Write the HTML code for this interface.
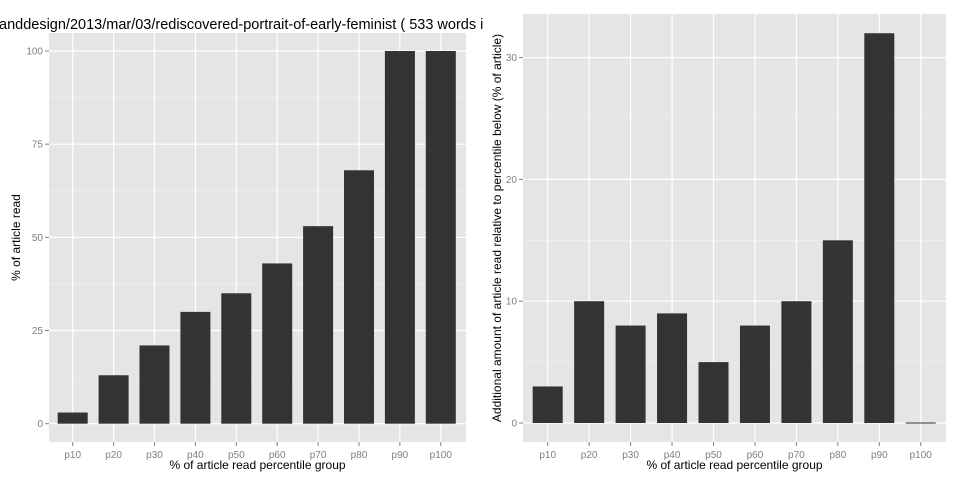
<!DOCTYPE html>
<html><head><meta charset="utf-8"><style>
body{margin:0;background:#fff;}
svg{display:block;font-family:"Liberation Sans",sans-serif;}
</style></head><body>
<svg id="chart" width="960" height="480"></svg>
<script>
const categories=["p10","p20","p30","p40","p50","p60","p70","p80","p90","p100"];
const leftValues=[3,13,21,30,35,43,53,68,100,100];
const rightValues=[3,10,8,9,5,8,10,15,32,0];
const leftTicks=[0,25,50,75,100];
const rightTicks=[0,10,20,30];
const NS="http://www.w3.org/2000/svg";
const svg=document.getElementById('chart');
function mk(tag,attrs,parent,text){const e=document.createElementNS(NS,tag);for(const k in attrs)e.setAttribute(k,attrs[k]);if(text!==undefined)e.textContent=text;(parent||svg).appendChild(e);return e;}
function panel(cfg,values,ticks){
  const g=mk('g',{});
  
  
  const y=v=>cfg.y0-(v)*cfg.ppu;
  const x=i=>cfg.x0+i*cfg.step;
  const bg=mk('rect',{x:cfg.left,y:cfg.top,width:cfg.right-cfg.left,height:cfg.bottom-cfg.top,fill:'#e5e5e5'},g);
  
  
  for(let i=0;i<ticks.length-1;i++){const m=(ticks[i]+ticks[i+1])/2;mk('line',{x1:cfg.left,x2:cfg.right,y1:y(m),y2:y(m),stroke:'#f2f2f2','stroke-width':0.6},g);}
  const lastMinor=ticks[ticks.length-1]+(ticks[1]-ticks[0])/2;
  if(y(lastMinor)>cfg.top)mk('line',{x1:cfg.left,x2:cfg.right,y1:y(lastMinor),y2:y(lastMinor),stroke:'#f2f2f2','stroke-width':0.6},g);
  ticks.forEach(t=>{
    mk('line',{x1:cfg.left,x2:cfg.right,y1:y(t),y2:y(t),stroke:'#fff','stroke-width':1.2},g);
    mk('line',{x1:cfg.left-4,x2:cfg.left,y1:y(t),y2:y(t),stroke:'#7f7f7f','stroke-width':1},g);
    const tl=mk('text',{x:cfg.left-6,y:y(t)+3.5,'text-anchor':'end','font-size':10,fill:'#7f7f7f'},g,String(t));
    
    
  });
  categories.forEach((c,i)=>{
    mk('line',{x1:x(i),x2:x(i),y1:cfg.top,y2:cfg.bottom,stroke:'#fff','stroke-width':1.2},g);
    mk('line',{x1:x(i),x2:x(i),y1:cfg.bottom,y2:cfg.bottom+4,stroke:'#7f7f7f','stroke-width':1},g);
    const tl=mk('text',{x:x(i),y:cfg.bottom+16,'text-anchor':'middle','font-size':10,fill:'#7f7f7f'},g,c);
    
    
  });
  values.forEach((v,i)=>{
    const h=Math.max(v*cfg.ppu,1);
    const b=mk('rect',{x:x(i)-15,y:y(v)-(v===0?0.5:0),width:30,height:h,fill:'#333333'},g);
    
    
  });
  const xt=mk('text',{x:(cfg.left+cfg.right)/2,y:469,'text-anchor':'middle','font-size':12,fill:'#000'},g,'% of article read percentile group');
  
  
  const yt=mk('text',{x:0,y:0,'text-anchor':'middle','font-size':12,fill:'#000',transform:`translate(${cfg.ytx},${(cfg.top+cfg.bottom)/2}) rotate(-90)`},g,cfg.ytitle);
  
  
}
panel({name:'left-panel',left:49,right:466,top:33,bottom:442,y0:423.7,ppu:3.727,x0:72.7,step:40.9,ytx:20,ytitle:'% of article read'},leftValues,leftTicks);
panel({name:'right-panel',left:523,right:946,top:14,bottom:442,y0:423,ppu:12.18,x0:547.7,step:41.45,ytx:501,ytitle:'Additional amount of article read relative to percentile below (% of article)'},rightValues,rightTicks);
const t=mk('text',{x:-1,y:29,'font-size':14.5,fill:'#000'},svg,'anddesign/2013/mar/03/rediscovered-portrait-of-early-feminist ( 533 words i');


</script>
</body></html>
